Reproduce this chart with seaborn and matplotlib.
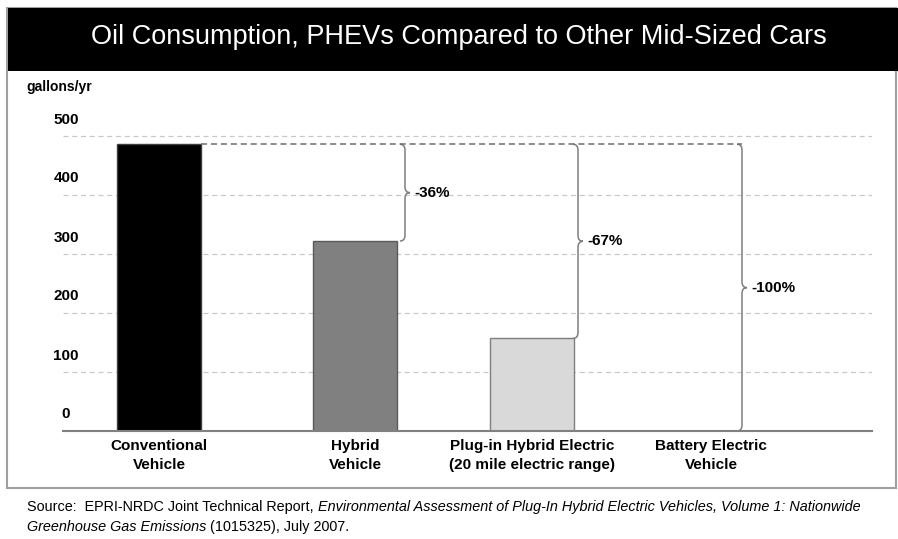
import matplotlib
matplotlib.use('Agg')
import matplotlib.pyplot as plt
import matplotlib.transforms as mtransforms
from matplotlib.path import Path
from matplotlib.patches import PathPatch, Rectangle
import seaborn as sns

# Chart data
categories = ['Conventional\nVehicle', 'Hybrid\nVehicle',
              'Plug-in Hybrid Electric\n(20 mile electric range)', 'Battery Electric\nVehicle']
gallons = [486, 322, 157, 0]
bar_colors = ['#000000', '#808080', '#d9d9d9', '#ffffff']
edge_colors = ['#3f3f3f', '#595959', '#7f7f7f', '#ffffff']
pct_labels = ['-36%', '-67%', '-100%']
y_ticks = [0, 100, 200, 300, 400, 500]

# layout (x in pixel-like units of the original slide)
x_pos = [159, 355, 532, 711]
brace_x = [405, 578, 742]

sns.set_style('white')
FONT = ['Liberation Sans', 'DejaVu Sans']
plt.rcParams['font.family'] = FONT
plt.rcParams['text.color'] = 'black'
plt.rcParams['xtick.color'] = 'black'
plt.rcParams['ytick.color'] = 'black'

W, H = 898, 539
fig = plt.figure(figsize=(W / 100, H / 100), dpi=100)
ax = fig.add_axes([63 / W, (H - 431) / H, 809 / W, 318.6 / H])

sns.barplot(x=x_pos, y=gallons, hue=categories, palette=bar_colors,
            native_scale=True, width=84 / 177, saturation=1, legend=False, ax=ax)
for patch, ec in zip(ax.patches, edge_colors):
    patch.set_edgecolor(ec)
    patch.set_linewidth(1)

ax.set_xlim(63, 872)
ax.set_ylim(0, 540)
ax.set_xlabel('')
ax.set_ylabel('')

# grid and spines
ax.set_axisbelow(True)
ax.yaxis.grid(True, color='#c8c8c8', linestyle=(0, (4, 3)), linewidth=0.9)
ax.xaxis.grid(False)
for side in ['top', 'right', 'left']:
    ax.spines[side].set_visible(False)
ax.spines['bottom'].set_color('#808080')
ax.spines['bottom'].set_linewidth(1.5)

# y tick labels sit above their gridlines
ax.set_yticks(y_ticks)
ax.set_yticklabels([str(t) for t in y_ticks], fontsize=11, fontweight='bold')
ax.tick_params(axis='y', length=0, pad=0)
shift = mtransforms.ScaledTranslation(0.03, 0.18, fig.dpi_scale_trans)
for lab in ax.get_yticklabels():
    lab.set_ha('center')
    lab.set_transform(lab.get_transform() + shift)

ax.set_xticks(x_pos)
ax.set_xticklabels(categories, fontsize=11, fontweight='bold')
ax.tick_params(axis='x', length=0, pad=6)
for lab in ax.get_xticklabels():
    lab.set_linespacing(1.45)

# reference line at conventional level
top = gallons[0]
ax.plot([x_pos[0] + 42, brace_x[-1]], [top, top], color='#6e6e6e',
        linestyle=(0, (4, 2.5)), linewidth=1.1)


def brace(x, y0, y1, w=5, r=10):
    ym = (y0 + y1) / 2
    verts = [(x - w, y1), (x, y1), (x, y1 - r),
             (x, ym + r), (x, ym), (x + w, ym),
             (x, ym), (x, ym - r),
             (x, y0 + r), (x, y0), (x - w, y0)]
    codes = [Path.MOVETO, Path.CURVE3, Path.CURVE3,
             Path.LINETO, Path.CURVE3, Path.CURVE3,
             Path.CURVE3, Path.CURVE3,
             Path.LINETO, Path.CURVE3, Path.CURVE3]
    ax.add_patch(PathPatch(Path(verts, codes), fill=False,
                           edgecolor='#7f7f7f', linewidth=1.1))
    return ym


for bx, val, lab in zip(brace_x, gallons[1:], pct_labels):
    ym = brace(bx, val, top)
    ax.text(bx + 9, ym, lab, fontsize=11, fontweight='bold',
            va='center', ha='left')

# frame, title bar and title
fig.add_artist(Rectangle((7 / W, 1 - 488 / H), 889 / W, 480 / H,
                         transform=fig.transFigure, fill=False,
                         edgecolor='#a0a0a0', linewidth=1.5))
fig.add_artist(Rectangle((8 / W, 1 - 71 / H), 890 / W, 63 / H,
                         transform=fig.transFigure, facecolor='black',
                         edgecolor='none'))
fig.text(459 / W, 1 - 37 / H, 'Oil Consumption, PHEVs Compared to Other Mid-Sized Cars',
         color='white', fontsize=19.5, ha='center', va='center')
fig.text(26 / W, 1 - 87 / H, 'gallons/yr', fontsize=10, fontweight='bold',
         ha='left', va='center')

# source note with mixed italic runs
renderer = fig.canvas.get_renderer()


def runs(x, y, parts):
    for s, style in parts:
        t = fig.text(x, y, s, fontsize=10.4, style=style, ha='left', va='center')
        x += t.get_window_extent(renderer).width / fig.bbox.width


runs(27 / W, 1 - 507 / H, [('Source:  EPRI-NRDC Joint Technical Report, ', 'normal'),
                           ('Environmental Assessment of Plug-In Hybrid Electric Vehicles, '
                            'Volume 1: Nationwide', 'italic')])
runs(27 / W, 1 - 527 / H, [('Greenhouse Gas Emissions', 'italic'),
                           (' (1015325), July 2007.', 'normal')])

fig.savefig('out.png', dpi=100)
